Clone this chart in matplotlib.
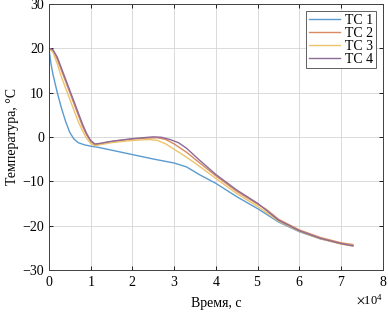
import matplotlib
matplotlib.use("Agg")
import matplotlib.pyplot as plt
from matplotlib.ticker import ScalarFormatter, MultipleLocator

plt.rcParams['font.family'] = ['Liberation Serif', 'DejaVu Serif']
plt.rcParams['mathtext.fontset'] = 'stix'

# time in units of 1e4 s
t1 = [0, 0.05, 0.1, 0.2, 0.3, 0.4, 0.5, 0.6, 0.7, 0.85, 1.0, 1.2, 1.5, 2.0, 2.5, 3.0, 3.3, 3.6, 4.0, 4.5, 5.0, 5.5, 6.0, 6.5, 7.0, 7.28]
tc1 = [20, 16.5, 14, 10, 6.5, 3.5, 1, -0.5, -1.3, -1.8, -2.1, -2.4, -3.0, -4.0, -5.0, -5.9, -6.8, -8.5, -10.5, -13.5, -16.2, -19.2, -21.4, -23.0, -24.0, -24.5]

t2 = [0, 0.1, 0.2, 0.3, 0.4, 0.5, 0.6, 0.7, 0.8, 0.9, 1.0, 1.1, 1.2, 1.4, 1.7, 2.0, 2.3, 2.6, 2.8, 3.0, 3.3, 3.6, 4.0, 4.5, 5.0, 5.2, 5.5, 6.0, 6.5, 7.0, 7.28]
tc2 = [20, 19.5, 17.5, 15, 12.5, 10, 7.5, 5, 2.5, 0.5, -1, -1.8, -1.7, -1.2, -0.8, -0.5, -0.3, -0.2, -0.6, -1.6, -3.5, -5.8, -8.8, -12.3, -15.2, -16.3, -18.6, -21.0, -22.7, -23.9, -24.3]

t3 = [0, 0.1, 0.2, 0.3, 0.4, 0.5, 0.6, 0.7, 0.8, 0.9, 1.0, 1.1, 1.2, 1.5, 2.0, 2.4, 2.6, 2.8, 3.0, 3.3, 3.6, 4.0, 4.5, 5.0, 5.5, 6.0, 6.5, 7.0, 7.28]
tc3 = [20, 19, 16.5, 13.5, 11, 8.5, 6, 3.5, 1.5, -0.3, -1.5, -2, -1.8, -1.3, -0.8, -0.6, -0.8, -1.6, -2.8, -4.6, -6.6, -9.4, -12.8, -15.7, -19.0, -21.3, -23.0, -24.2, -24.6]

t4 = [0, 0.1, 0.2, 0.3, 0.4, 0.5, 0.6, 0.7, 0.8, 0.9, 1.0, 1.1, 1.2, 1.5, 2.0, 2.5, 2.7, 2.9, 3.1, 3.3, 3.6, 4.0, 4.5, 5.0, 5.5, 6.0, 6.5, 7.0, 7.28]
tc4 = [20, 19.6, 18, 15.5, 13, 10.5, 8, 5.5, 3, 0.8, -0.8, -1.6, -1.5, -1.0, -0.4, 0, -0.1, -0.6, -1.3, -2.6, -5.2, -8.5, -12.0, -15.0, -18.8, -21.2, -22.9, -24.1, -24.6]

labels = ['TC 1', 'TC 2', 'TC 3', 'TC 4']
colors = ['#5b9bd0', '#d98a60', '#ecc46a', '#8e6a96']

fig = plt.figure(figsize=(3.88, 3.19), dpi=100)
ax = fig.add_axes([0.126, 0.154, 0.861, 0.834])

for t, v, lab, c in zip([t1, t2, t3, t4], [tc1, tc2, tc3, tc4], labels, colors):
    ax.plot([x * 1e4 for x in t], v, color=c, lw=1.0, label=lab)

ax.set_xlim(0, 8e4)
ax.set_ylim(-30, 30)
ax.xaxis.set_major_locator(MultipleLocator(1e4))
ax.yaxis.set_major_locator(MultipleLocator(10))
fmt = ScalarFormatter(useMathText=True)
fmt.set_powerlimits((0, 0))
ax.xaxis.set_major_formatter(fmt)
ax.xaxis.get_offset_text().set_fontsize(9)

ax.grid(True, color='#d4d4d4', lw=0.6)
ax.tick_params(direction='in', top=True, right=True, labelsize=10, length=3, width=0.6)
for s in ax.spines.values():
    s.set_linewidth(0.7)
    s.set_color('#404040')

ax.set_xlabel('Время, с', fontsize=10, labelpad=6)
ax.set_ylabel('Температура, °С', fontsize=10, labelpad=2)

leg = ax.legend(loc='upper right', fontsize=10, labelspacing=0.0, handlelength=2.2,
                handletextpad=0.4, borderpad=0.2, fancybox=False, framealpha=1,
                edgecolor='#606060', borderaxespad=0.5)
leg.get_frame().set_linewidth(0.7)

fig.savefig('out.png', dpi=100)
